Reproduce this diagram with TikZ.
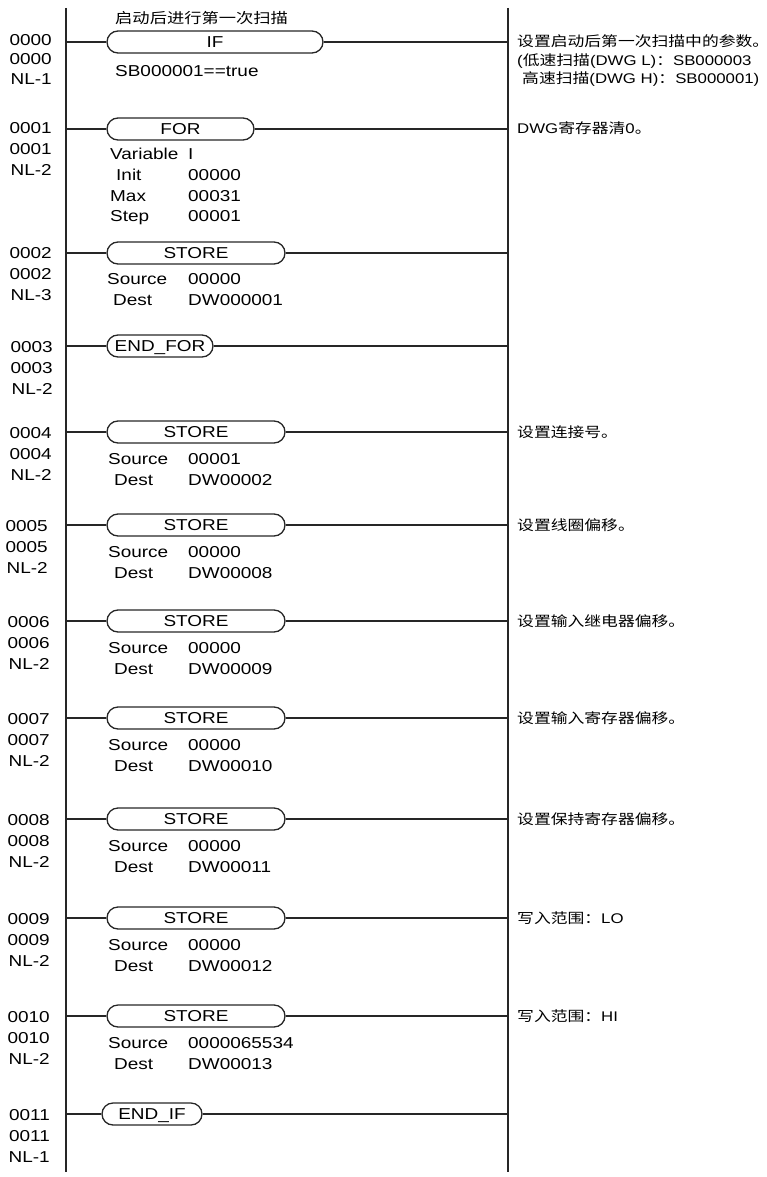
\documentclass[tikz,border=0pt]{standalone}
\usepackage{fontspec}
\setmainfont{Liberation Sans}[FakeStretch=1.2]
\newfontfamily\cjk{Noto Sans CJK SC}[FakeStretch=1.2]
\usetikzlibrary{shapes.misc}
\newcommand\zh[1]{{\cjk #1}}
\tikzset{
  big/.style={font=\fontsize{15.8}{19}\selectfont, inner sep=0pt},
  small/.style={font=\fontsize{14}{17}\selectfont, inner sep=0pt},
  instr/.style={draw=black!85, line width=1.3pt, rounded rectangle, minimum height=22pt, inner sep=0pt, big, text height=11.3pt, text depth=0pt},
  rail/.style={line width=2pt, draw=black!85},
  wire/.style={line width=1.3pt, draw=black!85},
  lbl/.style={big, anchor=base east},
  txt/.style={big, anchor=base west},
  note/.style={small, anchor=base west}
}
\begin{document}
\begin{tikzpicture}[x=1pt,y=-1pt]
\useasboundingbox (0,0) rectangle (767,1177);
% rails
\coordinate (Ltop) at (66,8);
\coordinate (Lbot) at (66,1172);
\coordinate (Rtop) at (508,8);
\coordinate (Rbot) at (508,1172);
\draw[rail] (Ltop) -- (Lbot);
\draw[rail] (Rtop) -- (Rbot);

% ---- rung 0000 IF
\node[small, anchor=base west, font=\fontsize{14.4}{17}\selectfont] (c0) at (115,24) {\zh{启动后进行第一次扫描}};
\node[instr, minimum width=216pt] (b0) at (215,42) {IF};
\coordinate (l0) at (66,42); \coordinate (r0) at (508,42);
\draw[wire] (l0) -- (b0.west); \draw[wire] (b0.east) -- (r0);
\node[txt] (p0) at (115,77) {SB000001==true};
\node[lbl] (n0a) at (52,46) {0000};
\node[lbl] (n0b) at (52,65) {0000};
\node[lbl] (n0c) at (52,85) {NL-1};
\node[note] (m0a) at (517,47) {\zh{设置启动后第一次扫描中的参数。}};
\node[note] (m0b) at (517,66) {(\zh{低速扫描}(DWG L)\zh{：}SB000003};
\node[note] (m0c) at (522,84) {\zh{高速扫描}(DWG H)\zh{：}SB000001)};

% ---- rung 0001 FOR
\node[instr, minimum width=147pt] (b1) at (180.5,129) {FOR};
\coordinate (l1) at (66,129); \coordinate (r1) at (508,129);
\draw[wire] (l1) -- (b1.west); \draw[wire] (b1.east) -- (r1);
\node[txt] (p1a) at (110,160) {Variable};
\node[txt] (p1b) at (188,160) {I};
\node[txt] (p1c) at (116,181) {Init};
\node[txt] (p1d) at (188,181) {00000};
\node[txt] (p1e) at (110,201) {Max};
\node[txt] (p1f) at (188,201) {00031};
\node[txt] (p1g) at (110,221) {Step};
\node[txt] (p1h) at (188,221) {00001};
\node[lbl] (n1a) at (52,134) {0001};
\node[lbl] (n1b) at (52,155) {0001};
\node[lbl] (n1c) at (52,176) {NL-2};
\node[note] (m1) at (517,134) {DWG\zh{寄存器清}0\zh{。}};

% ---- rung 0002 STORE
\node[instr, minimum width=178pt] (b2) at (196,253) {STORE};
\coordinate (l2) at (66,253); \coordinate (r2) at (508,253);
\draw[wire] (l2) -- (b2.west); \draw[wire] (b2.east) -- (r2);
\node[txt] (p2a) at (107,284) {Source};
\node[txt] (p2b) at (188,284) {00000};
\node[txt] (p2c) at (113,305) {Dest};
\node[txt] (p2d) at (188,305) {DW000001};
\node[lbl] (n2a) at (52,258) {0002};
\node[lbl] (n2b) at (52,279) {0002};
\node[lbl] (n2c) at (52,300) {NL-3};

% ---- rung 0003 END_FOR
\node[instr, minimum width=106pt] (b3) at (160,346) {END\_FOR};
\coordinate (l3) at (66,346); \coordinate (r3) at (508,346);
\draw[wire] (l3) -- (b3.west); \draw[wire] (b3.east) -- (r3);
\node[lbl] (n3a) at (53,352) {0003};
\node[lbl] (n3b) at (53,373) {0003};
\node[lbl] (n3c) at (53,394) {NL-2};

% ---- STORE rungs 0004 - 0010
\foreach \k/\y/\xl/\src/\dst/\cmt in {
  4/432/52/00001/DW00002/{\zh{设置连接号。}},
  5/525/48/00000/DW00008/{\zh{设置线圈偏移。}},
  6/621/50/00000/DW00009/{\zh{设置输入继电器偏移。}},
  7/718/50/00000/DW00010/{\zh{设置输入寄存器偏移。}},
  8/819/50/00000/DW00011/{\zh{设置保持寄存器偏移。}},
  9/918/50/00000/DW00012/{\zh{写入范围：}LO},
  10/1016/50/0000065534/DW00013/{\zh{写入范围：}HI}}{
  \node[instr, minimum width=178pt] (b\k) at (196,\y) {STORE};
  \coordinate (l\k) at (66,\y); \coordinate (r\k) at (508,\y);
  \draw[wire] (l\k) -- (b\k.west); \draw[wire] (b\k.east) -- (r\k);
  \node[txt] (p\k a) at (108,\y+32) {Source};
  \node[txt] (p\k b) at (188,\y+32) {\src};
  \node[txt] (p\k c) at (114,\y+53) {Dest};
  \node[txt] (p\k d) at (188,\y+53) {\dst};
  \node[lbl] (n\k a) at (\xl,\y+6) {00\ifnum\k<10 0\fi\k};
  \node[lbl] (n\k b) at (\xl,\y+27) {00\ifnum\k<10 0\fi\k};
  \node[lbl] (n\k c) at (\xl,\y+48) {NL-2};
  \node[note] (m\k) at (517,\y+5) {\cmt};
}

% ---- rung 0011 END_IF
\node[instr, minimum width=100pt] (b11) at (152,1114) {END\_IF};
\coordinate (l11) at (66,1114); \coordinate (r11) at (508,1114);
\draw[wire] (l11) -- (b11.west); \draw[wire] (b11.east) -- (r11);
\node[lbl] (n11a) at (50,1120) {0011};
\node[lbl] (n11b) at (50,1141) {0011};
\node[lbl] (n11c) at (50,1162) {NL-1};
\end{tikzpicture}
\end{document}
